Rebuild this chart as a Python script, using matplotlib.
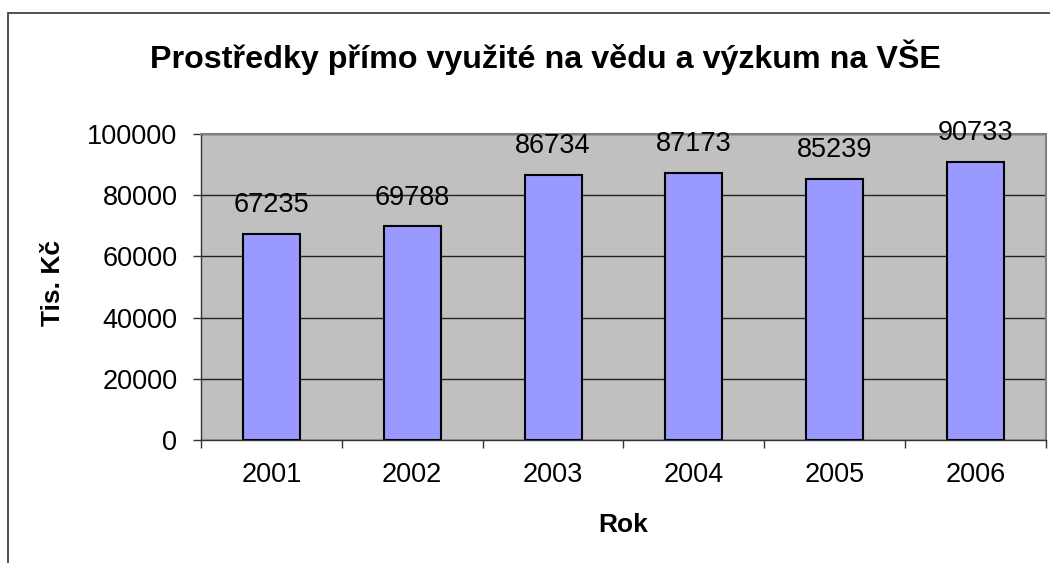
import matplotlib
matplotlib.use("Agg")
import matplotlib.pyplot as plt
from matplotlib.patches import Rectangle

years = ["2001", "2002", "2003", "2004", "2005", "2006"]
values = [67235, 69788, 86734, 87173, 85239, 90733]
title = "Prostředky přímo využité na vědu a výzkum na VŠE"
ylabel = "Tis. Kč"
xlabel = "Rok"

plt.rcParams['font.family'] = ['Liberation Sans', 'DejaVu Sans']

W, H = 1050, 563
fig = plt.figure(figsize=(W/100, H/100), dpi=100)
# outer chart border
fig.patches.append(Rectangle((7.5/W, -0.1), 1.2, (H-13.5)/H + 0.1, transform=fig.transFigure,
                             fill=False, edgecolor='#333333', linewidth=1.2))

l, r, t, b = 201, 1046, 134, 440
ax = fig.add_axes([l/W, 1 - b/H, (r-l)/W, (b-t)/H])
ax.set_facecolor('#C0C0C0')
x = range(len(years))
ax.bar(x, values, width=0.405, color='#9999FF', edgecolor='black', linewidth=1.5, zorder=3)
ax.set_xlim(-0.5, len(years) - 0.5)
ax.set_ylim(0, 100000)
ax.set_yticks(range(0, 100001, 20000))
ax.grid(axis='y', color='#222222', linewidth=1, zorder=1)
ax.set_xticks(list(x))
ax.set_xticklabels(years, fontsize=19.5)
ax.set_xticks([i - 0.5 for i in range(len(years) + 1)], minor=True)
ax.tick_params(axis='x', which='major', length=0, pad=16)
ax.tick_params(axis='x', which='minor', length=6, width=1, color='#333333')
ax.tick_params(axis='y', labelsize=19.5, length=6, width=1, color='#333333', pad=11)
for s in ['top', 'right']:
    ax.spines[s].set_color('#808080')
    ax.spines[s].set_linewidth(1.5)
for s in ['left', 'bottom']:
    ax.spines[s].set_color('#333333')
    ax.spines[s].set_linewidth(1)

for xi, v in zip(x, values):
    ax.annotate(str(v), (xi, v), xytext=(0, 15.8), textcoords='offset points',
                ha='center', va='baseline', fontsize=19.5, zorder=5, annotation_clip=False)

fig.text(545/W, 1 - 68/H, title, ha='center', va='baseline', fontsize=23.2, fontweight='bold')
fig.text(53/W, 1 - 283/H, ylabel, ha='center', va='center', rotation=90, fontsize=19, fontweight='bold')
fig.text(623/W, 1 - 532/H, xlabel, ha='center', va='baseline', fontsize=19, fontweight='bold')

fig.savefig("out.png", dpi=100)
